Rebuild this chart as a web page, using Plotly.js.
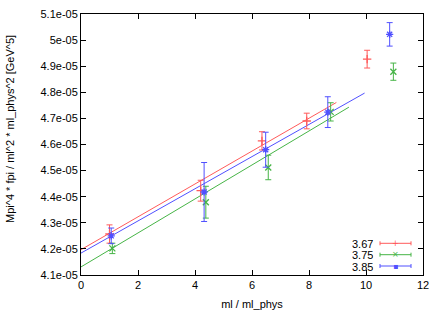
<!DOCTYPE html>
<html><head><meta charset="utf-8">
<script src="https://cdn.plot.ly/plotly-3.0.1.min.js"></script>
<style>html,body{margin:0;padding:0;background:#fff;}#plot{width:444px;height:311px;}</style>
</head><body><div id="plot"></div>
<script>
const seriesNames = ["3.67", "3.75", "3.85"];
const x367 = [1.0, 4.2, 6.35, 7.92, 10.04];
const y367 = [4.257e-5, 4.423e-5, 4.614e-5, 4.690e-5, 4.927e-5];
const e367 = [0.35e-6, 0.40e-6, 0.35e-6, 0.30e-6, 0.34e-6];
const x375 = [1.1, 4.38, 6.57, 8.76, 10.96];
const y375 = [4.202e-5, 4.379e-5, 4.512e-5, 4.725e-5, 4.879e-5];
const e375 = [0.20e-6, 0.61e-6, 0.47e-6, 0.35e-6, 0.33e-6];
const x385 = [1.06, 4.32, 6.48, 8.66, 10.83];
const y385 = [4.250e-5, 4.418e-5, 4.580e-5, 4.724e-5, 5.022e-5];
const e385 = [0.30e-6, 1.13e-6, 0.67e-6, 0.59e-6, 0.45e-6];
const fitX367 = [0, 8.96], fitY367 = [4.197e-5, 4.761e-5];
const fitX375 = [0, 9.40], fitY375 = [4.131e-5, 4.743e-5];
const fitX385 = [0, 9.95], fitY385 = [4.184e-5, 4.797e-5];
const xTicks = [0, 2, 4, 6, 8, 10, 12];
const yTicks = [4.1e-5, 4.2e-5, 4.3e-5, 4.4e-5, 4.5e-5, 4.6e-5, 4.7e-5, 4.8e-5, 4.9e-5, 5.0e-5, 5.1e-5];
const yTickText = ["4.1e-05","4.2e-05","4.3e-05","4.4e-05","4.5e-05","4.6e-05","4.7e-05","4.8e-05","4.9e-05","5e-05","5.1e-05"];
const xTitle = "ml / ml_phys";
const yTitle = "Mpi^4 * fpi / ml^2 * ml_phys^2 [GeV^5]";

const colors = ["rgb(255,90,90)", "rgb(70,180,70)", "rgb(80,80,255)"];
const symbols = ["cross-thin-open", "x-thin-open", "asterisk-open"];

function pts(x, y, e, i) {
  return {x: x, y: y, type: "scatter", mode: "markers", name: seriesNames[i], showlegend: false,
    marker: {symbol: symbols[i], size: 6, color: colors[i], line: {color: colors[i], width: 1.3}},
    error_y: {type: "data", array: e, visible: true, color: colors[i], thickness: 1, width: 3}};
}
function fit(x, y, i) {
  return {x: x, y: y, type: "scatter", mode: "lines", showlegend: false, hoverinfo: "skip",
    line: {color: colors[i], width: 1}};
}
const data = [
  fit(fitX367, fitY367, 0), fit(fitX375, fitY375, 1), fit(fitX385, fitY385, 2),
  pts(x367, y367, e367, 0), pts(x375, y375, e375, 1), pts(x385, y385, e385, 2)
];

const W = 444, H = 311;
const M = {l: 81, r: 21, t: 14, b: 36};
// convert page pixels to paper coordinates (relative to plot area)
function px(p){ return (p - M.l) / (W - M.l - M.r); }
function py(p){ return (H - M.b - p) / (H - M.t - M.b); }
const font = {family: "Liberation Sans, Arial, sans-serif", size: 11, color: "#000"};

// legend (gnuplot style: text right-aligned, sample to the right)
const legY = [243.3, 254.7, 266];
const shapes = [], annotations = [];
seriesNames.forEach((n, i) => {
  annotations.push({xref: "paper", yref: "paper", x: px(374), y: py(legY[i]), xanchor: "right", yanchor: "middle",
    text: n, showarrow: false, height: 11, font: {family: font.family, size: 11, color: "#000"}, borderpad: 0});
  shapes.push({type: "line", xref: "paper", yref: "paper", x0: px(380), x1: px(411), y0: py(legY[i]), y1: py(legY[i]),
    line: {color: colors[i], width: 1}});
  [380, 411].forEach(xx => shapes.push({type: "line", xref: "paper", yref: "paper", x0: px(xx), x1: px(xx),
    y0: py(legY[i] - 2), y1: py(legY[i] + 2), line: {color: colors[i], width: 1}}));
});
const legGlyph = ["+", "×", "▪"];
seriesNames.forEach((n, i) => {
  annotations.push({xref: "paper", yref: "paper", x: px(395.5), y: py(legY[i]), xanchor: "center", yanchor: "middle",
    text: legGlyph[i], showarrow: false, height: 9, font: {family: "DejaVu Sans, sans-serif", size: 8, color: colors[i]}, borderpad: 0});
});
// y axis title placed like gnuplot's
annotations.push({xref: "paper", yref: "paper", x: px(10), y: py(129), xanchor: "center", yanchor: "middle",
  textangle: -90, text: yTitle, showarrow: false, font: font});

const layout = {
  width: W, height: H,
  margin: {l: M.l, r: M.r, t: M.t, b: M.b, pad: 0},
  paper_bgcolor: "#fff", plot_bgcolor: "#fff",
  font: font,
  showlegend: false,
  xaxis: {range: [0, 12], tickvals: xTicks, ticktext: xTicks.map(String), ticks: "inside", ticklen: 5,
    tickcolor: "#000", showline: true, linecolor: "#000", linewidth: 1, mirror: "ticks", showgrid: false, zeroline: false,
    title: {text: xTitle, font: font, standoff: 10}},
  yaxis: {range: [4.1e-5, 5.1e-5], tickvals: yTicks, ticktext: yTickText, ticks: "inside", ticklen: 5,
    tickcolor: "#000", showline: true, linecolor: "#000", linewidth: 1, mirror: "ticks", showgrid: false, zeroline: false},
  shapes: shapes,
  annotations: annotations
};
Plotly.newPlot("plot", data, layout, {staticPlot: true, displayModeBar: false});
</script></body></html>
